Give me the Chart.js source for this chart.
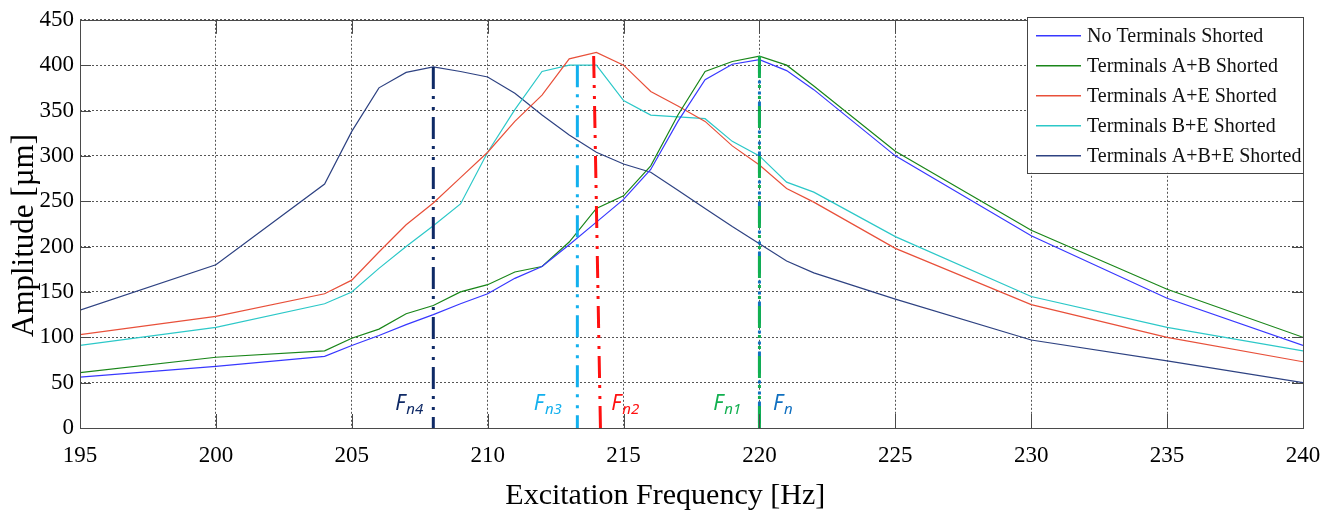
<!DOCTYPE html>
<html>
<head>
<meta charset="utf-8">
<script src="https://cdn.jsdelivr.net/npm/chart.js@4.4.1/dist/chart.umd.min.js"></script>
<style>
  html, body { margin: 0; padding: 0; background: #fff; }
</style>
</head>
<body>
<canvas id="chart" width="1340" height="511"></canvas>
<script>
// excitation frequency (Hz) for every measured point
const freqHz = [195, 200, 204, 205, 206, 207, 208, 209, 210, 211, 212, 213, 214, 215, 216, 217, 218, 219, 220, 221, 222, 225, 230, 235, 240];

// amplitude in um
const noShorted  = [56, 68, 79, 91, 102, 114, 125, 137, 148, 165, 178, 202, 227, 252, 285, 338, 384, 401, 406, 394, 373, 300, 212, 143, 91];
const abShorted  = [61, 78, 85, 99, 109, 126, 135, 150, 158, 172, 178, 205, 242, 256, 289, 345, 393, 404, 410, 400, 377, 305, 218, 153, 100];
const aeShorted  = [103, 123, 148, 163, 194, 224, 248, 276, 304, 338, 367, 407, 414, 400, 371, 355, 338, 311, 290, 264, 249, 198, 136, 100, 73];
const beShorted  = [91, 111, 137, 150, 176, 200, 223, 247, 304, 351, 393, 400, 400, 361, 345, 343, 341, 316, 300, 271, 260, 211, 145, 111, 85];
const abeShorted = [130, 180, 269, 327, 375, 392, 398, 393, 387, 369, 345, 323, 304, 291, 282, 262, 242, 222, 203, 184, 171, 142, 97, 74, 50];

const seriesNames  = ["No Terminals Shorted", "Terminals A+B Shorted", "Terminals A+E Shorted", "Terminals B+E Shorted", "Terminals A+B+E Shorted"];
const seriesValues = [noShorted, abShorted, aeShorted, beShorted, abeShorted];
const seriesColors = ["#3838ff", "#1a861a", "#e8503a", "#2cc8c8", "#2e4282"];

// natural frequency markers (dash-dot verticals)
const markerSubs       = ["n4", "n3", "n2", "n1", "n"];
const markerFreqTop    = [208, 213.3, 213.9, 220, 220];
const markerFreqBottom = [208, 213.3, 214.15, 220, 220];
const markerTopAmp     = [398, 400, 410, 410, 405];
const markerColors     = ["#0f2a66", "#12b0ee", "#ff1010", "#12b050", "#1070c0"];
const markerLabelFreq  = [206.6, 211.7, 214.55, 218.3, 220.5];
const markerLabelAmp   = 20;

const xTicks = [195, 200, 205, 210, 215, 220, 225, 230, 235, 240];
const yTicks = [0, 50, 100, 150, 200, 250, 300, 350, 400, 450];

const SERIF = "'Liberation Serif', 'Times New Roman', serif";

const datasets = [];
markerSubs.forEach((s, i) => {
  datasets.push({
    isMarker: true,
    data: [{ x: markerFreqTop[i], y: markerTopAmp[i] }, { x: markerFreqBottom[i], y: 0 }],
    borderColor: markerColors[i],
    borderWidth: 3,
    borderDash: [22, 7, 3, 8, 3, 7],
    borderDashOffset: i === 4 ? 9 : 0,
    borderCapStyle: "butt",
    pointRadius: 0,
    order: 0
  });
});
seriesNames.forEach((name, i) => {
  datasets.push({
    label: name,
    data: freqHz.map((f, k) => ({ x: f, y: seriesValues[i][k] })),
    borderColor: seriesColors[i],
    borderWidth: 1.2,
    tension: 0,
    pointRadius: 0,
    order: 1
  });
});

// box + inward tick marks like the original figure
const boxTicks = {
  id: "boxTicks",
  afterDatasetsDraw(chart) {
    const { ctx, chartArea: a, scales: { x, y } } = chart;
    ctx.save();
    ctx.strokeStyle = "#4a4a4a";
    ctx.lineWidth = 1;
    ctx.setLineDash([]);
    ctx.beginPath();
    xTicks.slice(1, -1).forEach(v => {
      const px = Math.round(x.getPixelForValue(v)) + 0.5;
      ctx.moveTo(px, a.bottom); ctx.lineTo(px, a.bottom - 14);
      ctx.moveTo(px, a.top); ctx.lineTo(px, a.top + 14);
    });
    yTicks.slice(1, -1).forEach(v => {
      const py = Math.round(y.getPixelForValue(v)) + 0.5;
      ctx.moveTo(a.left, py); ctx.lineTo(a.left + 11, py);
      ctx.moveTo(a.right, py); ctx.lineTo(a.right - 11, py);
    });
    ctx.stroke();
    ctx.strokeRect(Math.round(a.left) + 0.5, Math.round(a.top) + 0.5, Math.round(a.right - a.left), Math.round(a.bottom - a.top));
    ctx.restore();
  }
};

const markerLabels = {
  id: "markerLabels",
  afterDatasetsDraw(chart) {
    const { ctx, scales: { x, y } } = chart;
    ctx.save();
    ctx.textBaseline = "alphabetic";
    ctx.textAlign = "left";
    markerSubs.forEach((s, i) => {
      const px = x.getPixelForValue(markerLabelFreq[i]);
      const py = y.getPixelForValue(markerLabelAmp);
      ctx.fillStyle = markerColors[i];
      ctx.font = "italic 21px 'Noto Sans', 'Open Sans', sans-serif";
      ctx.fillText("F", px, py);
      const w = ctx.measureText("F").width;
      ctx.font = "italic 15px 'Noto Sans', 'Open Sans', sans-serif";
      ctx.fillText(s, px + w + 1, py + 4);
    });
    ctx.restore();
  }
};

const boxLegend = {
  id: "boxLegend",
  afterDraw(chart) {
    const { ctx, chartArea: a } = chart;
    const w = 276, h = 156;
    const left = a.right - w, top = a.top - 3;
    ctx.save();
    ctx.fillStyle = "#fff";
    ctx.fillRect(left, top, w, h);
    ctx.strokeStyle = "#444";
    ctx.lineWidth = 1;
    ctx.strokeRect(Math.round(left) + 0.5, Math.round(top) + 0.5, w, h);
    ctx.font = "20px " + SERIF;
    ctx.textBaseline = "middle";
    ctx.fillStyle = "#111";
    chart.data.datasets.filter(d => !d.isMarker).forEach((d, i) => {
      const cy = top + 19 + i * 30;
      ctx.strokeStyle = d.borderColor;
      ctx.lineWidth = 1.4;
      ctx.beginPath();
      ctx.moveTo(left + 9, cy);
      ctx.lineTo(left + 54, cy);
      ctx.stroke();
      ctx.fillText(d.label, left + 60, cy + 1);
    });
    ctx.restore();
  }
};

new Chart(document.getElementById("chart").getContext("2d"), {
  type: "line",
  data: { datasets },
  options: {
    responsive: false,
    animation: false,
    events: [],
    layout: { padding: { top: 16, right: 37, left: 0, bottom: 0 } },
    plugins: { legend: { display: false }, tooltip: { enabled: false } },
    scales: {
      x: {
        type: "linear",
        min: 195,
        max: 240,
        afterBuildTicks: s => { s.ticks = xTicks.map(v => ({ value: v })); },
        afterFit: s => { s.height = 83; },
        grid: { color: "#555", lineWidth: 1, drawTicks: false },
        border: { display: false, dash: [2, 2] },
        ticks: { color: "#000", font: { family: SERIF, size: 23 }, padding: 14, maxRotation: 0, autoSkip: false },
        title: { display: true, text: "Excitation Frequency [Hz]       ", color: "#000", font: { family: SERIF, size: 30, lineHeight: 1 }, padding: { top: 0, bottom: 0 } }
      },
      y: {
        min: 0,
        max: 450,
        afterBuildTicks: s => { s.ticks = yTicks.map(v => ({ value: v })); },
        afterFit: s => { s.width = 80; },
        grid: { color: "#555", lineWidth: 1, drawTicks: false },
        border: { display: false, dash: [2, 2] },
        ticks: { color: "#000", font: { family: SERIF, size: 23 }, padding: 6 },
        title: { display: true, text: "Amplitude [µm]   ", color: "#000", font: { family: SERIF, size: 31, lineHeight: 1 }, padding: { top: 9, bottom: 0 } }
      }
    }
  },
  plugins: [boxTicks, markerLabels, boxLegend]
});
</script>
</body>
</html>
